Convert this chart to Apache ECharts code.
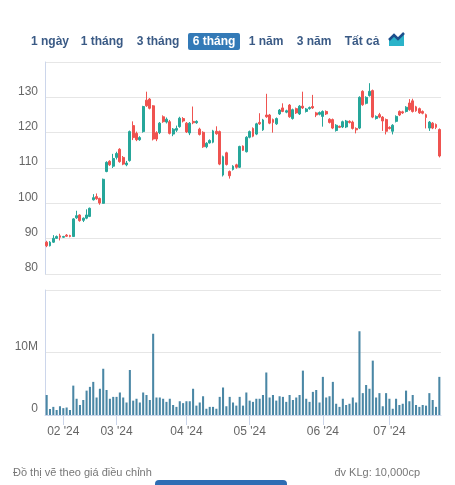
<!DOCTYPE html>
<html>
<head>
<meta charset="utf-8">
<script src="https://cdn.jsdelivr.net/npm/echarts@6/dist/echarts.min.js"></script>
<style>
    html, body { margin: 0; padding: 0; background: #fff; }
    #main { width: 455px; height: 485px; }
</style>
</head>
<body>
<div id="main"></div>
<script>
    // ngày giao dịch (6 tháng)
    var dates = [
        '2024-01-25', '2024-01-26', '2024-01-29', '2024-01-30', '2024-01-31',
        '2024-02-01', '2024-02-02', '2024-02-05', '2024-02-06', '2024-02-07', '2024-02-15', '2024-02-16', '2024-02-19',
        '2024-02-20', '2024-02-21', '2024-02-22', '2024-02-23', '2024-02-26', '2024-02-27', '2024-02-28', '2024-02-29',
        '2024-03-01', '2024-03-04', '2024-03-05', '2024-03-06', '2024-03-07', '2024-03-08', '2024-03-11', '2024-03-12',
        '2024-03-13', '2024-03-14', '2024-03-15', '2024-03-18', '2024-03-19', '2024-03-20', '2024-03-21', '2024-03-22',
        '2024-03-25', '2024-03-26', '2024-03-27', '2024-03-28', '2024-03-29',
        '2024-04-01', '2024-04-02', '2024-04-03', '2024-04-04', '2024-04-05', '2024-04-08', '2024-04-09', '2024-04-10',
        '2024-04-11', '2024-04-12', '2024-04-15', '2024-04-16', '2024-04-17', '2024-04-19', '2024-04-22', '2024-04-23',
        '2024-04-24', '2024-04-25', '2024-04-26',
        '2024-05-02', '2024-05-03', '2024-05-06', '2024-05-07', '2024-05-08', '2024-05-09', '2024-05-10', '2024-05-13',
        '2024-05-14', '2024-05-15', '2024-05-16', '2024-05-17', '2024-05-20', '2024-05-21', '2024-05-22', '2024-05-23',
        '2024-05-24', '2024-05-27', '2024-05-28', '2024-05-29', '2024-05-30', '2024-05-31',
        '2024-06-03', '2024-06-04', '2024-06-05', '2024-06-06', '2024-06-07', '2024-06-10', '2024-06-11', '2024-06-12',
        '2024-06-13', '2024-06-14', '2024-06-17', '2024-06-18', '2024-06-19', '2024-06-20', '2024-06-21', '2024-06-24',
        '2024-06-25', '2024-06-26', '2024-06-27', '2024-06-28',
        '2024-07-01', '2024-07-02', '2024-07-03', '2024-07-04', '2024-07-05', '2024-07-08', '2024-07-09', '2024-07-10',
        '2024-07-11', '2024-07-12', '2024-07-15', '2024-07-16', '2024-07-17', '2024-07-18', '2024-07-19', '2024-07-22'
    ]

    var openP = [
        89.0, 88.0, 89.0, 90.1, 90.8, 90.4, 91.0, 90.9, 90.6, 95.9, 96.7, 95.2, 95.8, 96.3, 101.0, 101.9, 101.4, 100.0,
        109.0, 111.9, 110.5, 113.0, 115.3, 113.0, 110.9, 112.1, 122.0, 119.8, 118.0, 120.3, 129.2, 129.5, 127.6, 120.0,
        120.0, 124.5, 123.0, 123.1, 119.6, 120.7, 121.7, 124.0, 122.7, 119.9, 123.2, 122.8, 121.0, 120.1, 116.0, 117.1,
        117.3, 120.4, 120.3, 108.0, 114.3, 109.0, 109.6, 110.9, 110.2, 116.2, 114.6, 118.7, 121.2, 119.6, 122.9, 120.8,
        125.0, 125.0, 123.7, 122.5, 125.3, 127.0, 125.8, 127.8, 124.0, 126.8, 125.3, 127.5, 126.0, 126.8, 127.4, 125.6,
        125.2, 124.6, 126.0, 123.8, 123.7, 120.6, 121.8, 121.6, 121.6, 123.2, 123.0, 121.2, 121.3, 131.7, 128.3, 130.5,
        131.9, 124.0, 125.1, 124.4, 123.7, 121.5, 120.4, 123.2, 126.0, 125.9, 126.0, 128.4, 129.0, 127.3, 126.8, 126.0,
        125.1, 121.3, 122.7, 122.3, 120.9
    ]
    var closeP = [
        88.0, 89.0, 90.1, 90.6, 90.4, 90.6, 90.7, 90.6, 95.6, 96.5, 95.1, 95.8, 96.7, 98.6, 101.6, 101.3, 100.1, 106.8,
        111.6, 110.9, 112.7, 114.1, 111.8, 111.1, 111.4, 120.3, 118.6, 118.0, 118.6, 127.4, 127.6, 126.9, 118.2, 118.2,
        122.7, 123.1, 123.8, 119.8, 121.0, 121.2, 124.1, 123.3, 120.2, 122.7, 122.8, 123.2, 119.5, 116.0, 117.0, 117.8,
        120.5, 119.7, 111.1, 113.2, 111.0, 107.8, 110.5, 110.2, 116.1, 115.0, 118.7, 120.3, 119.0, 122.5, 122.5, 123.6,
        124.5, 122.7, 122.9, 124.0, 126.4, 126.0, 126.2, 124.5, 126.5, 125.6, 127.5, 127.0, 126.7, 127.1, 127.0, 125.0,
        125.7, 126.0, 125.3, 122.9, 121.3, 122.1, 121.5, 123.1, 123.3, 122.9, 121.2, 120.8, 130.0, 127.9, 130.0, 131.7,
        124.4, 124.6, 124.4, 123.3, 120.4, 121.2, 122.1, 124.6, 125.0, 125.6, 127.2, 126.5, 126.0, 126.2, 125.6, 125.5,
        124.3, 123.0, 121.3, 121.5, 113.4
    ]
    var lowP = [
        87.6, 87.8, 88.8, 89.9, 89.5, 90.2, 90.5, 90.4, 90.5, 95.6, 94.8, 94.7, 95.5, 96.1, 100.8, 101.0, 99.6, 99.9,
        108.8, 110.6, 110.0, 112.4, 111.5, 110.8, 110.5, 111.8, 117.9, 117.6, 117.7, 120.0, 127.3, 126.6, 117.8, 117.6,
        119.6, 122.8, 122.6, 119.5, 119.0, 120.2, 121.4, 122.9, 119.9, 119.3, 122.4, 122.5, 119.2, 115.7, 115.6, 116.9,
        117.0, 119.4, 110.8, 107.6, 110.7, 107.0, 109.3, 109.8, 110.0, 114.8, 114.4, 118.4, 118.7, 119.3, 122.2, 120.5,
        124.2, 122.4, 120.0, 122.2, 125.0, 125.8, 125.5, 124.2, 123.7, 125.3, 125.0, 126.7, 125.7, 126.5, 126.7, 124.4,
        124.9, 121.7, 125.0, 122.6, 121.0, 120.3, 121.3, 121.3, 121.3, 122.6, 120.9, 119.8, 121.0, 127.6, 128.0, 130.2,
        124.1, 123.7, 124.1, 120.5, 119.5, 120.9, 119.5, 122.9, 124.7, 125.3, 125.7, 126.2, 125.7, 125.9, 125.3, 125.2,
        121.2, 120.5, 121.0, 121.0, 113.0
    ]
    var highP = [
        89.4, 89.3, 91.0, 90.9, 91.4, 90.8, 91.3, 91.1, 95.8, 97.9, 96.9, 96.0, 98.3, 98.8, 102.6, 102.8, 101.6, 107.0,
        111.9, 112.2, 114.0, 114.6, 115.6, 113.4, 112.0, 120.6, 123.2, 120.3, 119.0, 127.6, 131.6, 129.8, 127.8, 120.4,
        123.0, 124.9, 124.3, 123.6, 121.3, 122.0, 124.5, 124.4, 123.0, 123.0, 127.4, 123.5, 121.4, 120.4, 117.3, 118.1,
        120.8, 121.8, 120.6, 113.5, 114.6, 109.3, 110.8, 111.2, 116.3, 116.4, 119.0, 120.6, 121.5, 122.8, 125.5, 123.9,
        131.0, 125.3, 124.0, 124.3, 126.7, 128.3, 126.5, 128.1, 126.8, 127.1, 127.8, 131.6, 127.0, 127.4, 130.7, 125.9,
        126.0, 126.3, 126.3, 124.1, 124.0, 122.4, 122.0, 123.4, 123.6, 123.5, 123.4, 121.5, 130.3, 132.0, 130.3, 134.0,
        132.2, 124.9, 125.6, 124.7, 124.0, 121.8, 122.4, 124.9, 126.3, 126.2, 127.5, 129.5, 129.6, 127.6, 127.1, 126.3,
        125.4, 123.3, 123.0, 122.6, 121.2
    ]
    // khối lượng (triệu cp)
    var volume = [
        3.2, 0.96, 1.3, 0.8, 1.4, 1.1, 1.2, 0.8, 4.7, 2.6, 1.6, 2.4, 3.9, 4.5, 5.3, 2.8, 4.2, 7.4, 4.0, 2.6,
        2.9, 2.9, 3.6, 2.8, 2.0, 7.2, 2.3, 2.6, 2.0, 3.6, 3.2, 2.4, 13.0, 2.8, 2.8, 2.6, 2.1, 2.6, 1.6, 1.3,
        2.2, 1.9, 2.2, 2.2, 4.2, 1.5, 2.0, 3.0, 1.0, 1.3, 1.3, 1.0, 2.9, 4.4, 1.4, 2.9, 2.0, 1.5, 2.9, 1.5,
        3.6, 2.3, 2.1, 2.6, 2.6, 3.2, 6.8, 2.8, 3.2, 2.3, 3.0, 2.9, 2.1, 3.2, 2.4, 2.8, 3.2, 7.1, 2.6, 2.1,
        3.7, 4.0, 2.0, 6.1, 2.8, 3.0, 5.3, 1.8, 1.3, 2.6, 1.6, 1.8, 2.8, 2.0, 13.4, 3.5, 4.8, 4.2, 8.7, 2.8,
        3.5, 1.4, 3.5, 2.6, 1.0, 2.6, 1.6, 1.8, 3.9, 2.2, 3.2, 1.6, 1.3, 1.6, 1.5, 3.5, 2.4, 1.3, 6.1
    ]

    var rangeButtons = ['1 ngày', '1 tháng', '3 tháng', '6 tháng', '1 năm', '3 năm', 'Tất cả']
    var rangeButtonX = [50, 102, 158, 214, 266, 314, 362]
    var activeRange = '6 tháng'

    var fontName = '"Liberation Sans", Arial, sans-serif'
    var upColor = '#26a69a'
    var downColor = '#ef5350'
    var gridColor = '#e6e6e6'
    var axisColor = '#ccd6eb'

    var candleData = dates.map(function (d, i) {
        return [openP[i], closeP[i], lowP[i], highP[i]]
    })

    function isMonthStart(index) {
        if (index === 0) return false
        return dates[index].slice(0, 7) !== dates[index - 1].slice(0, 7)
    }

    var graphics = []
    rangeButtons.forEach(function (label, i) {
        var active = label === activeRange
        if (active) {
            graphics.push({
                type: 'rect',
                shape: { x: rangeButtonX[i] - 26, y: 33, width: 52, height: 17, r: 2 },
                style: { fill: '#337ab7' }
            })
        }
        graphics.push({
            type: 'text',
            x: rangeButtonX[i], y: 41.5,
            style: {
                text: label,
                fill: active ? '#fff' : '#3a5a85',
                font: 'bold 12px ' + fontName,
                textAlign: 'center', textVerticalAlign: 'middle'
            }
        })
    })
    // icon biểu đồ
    graphics.push({
        type: 'polygon',
        shape: { points: [[389, 46], [389, 40], [394, 35], [398, 39], [404, 33], [404, 46]] },
        style: { fill: '#2bb3c9' }
    })
    graphics.push({
        type: 'polyline',
        shape: { points: [[389, 40], [394, 35], [398, 39], [404, 33]] },
        style: { stroke: '#1d4f8c', lineWidth: 2.5, fill: null }
    })
    graphics.push({
        type: 'text', x: 13, y: 473,
        style: { text: 'Đồ thị vẽ theo giá điều chỉnh', fill: '#777', font: '11px ' + fontName, textVerticalAlign: 'middle' }
    })
    graphics.push({
        type: 'text', x: 420, y: 473,
        style: { text: 'đv KLg: 10,000cp', fill: '#777', font: '11px ' + fontName, textAlign: 'right', textVerticalAlign: 'middle' }
    })
    graphics.push({
        type: 'rect',
        shape: { x: 155, y: 480, width: 132, height: 14, r: 4 },
        style: { fill: '#2e6db4' }
    })

    var option = {
        animation: false,
        backgroundColor: '#fff',
        textStyle: { fontFamily: fontName },
        grid: [
            { left: 45, right: 14, top: 62, height: 212 },
            { left: 45, right: 14, top: 290, height: 125 }
        ],
        xAxis: [
            {
                type: 'category', gridIndex: 0, data: dates,
                axisLine: { show: false }, axisTick: { show: false }, axisLabel: { show: false },
                splitLine: { show: false }
            },
            {
                type: 'category', gridIndex: 1, data: dates,
                axisLine: { show: true, lineStyle: { color: axisColor } },
                axisTick: {
                    show: true, alignWithLabel: true, length: 10,
                    interval: function (index) { return isMonthStart(index) },
                    lineStyle: { color: axisColor }
                },
                axisLabel: {
                    interval: function (index) { return isMonthStart(index) },
                    formatter: function (value) {
                        return value.slice(5, 7) + " '" + value.slice(2, 4)
                    },
                    color: '#666', fontSize: 12, margin: 11
                },
                splitLine: { show: false }
            }
        ],
        yAxis: [
            {
                type: 'value', gridIndex: 0, min: 80, max: 140, interval: 10,
                axisLine: { show: true, lineStyle: { color: axisColor } },
                axisTick: { show: false },
                axisLabel: {
                    color: '#666', fontSize: 12, margin: 7, verticalAlign: 'bottom',
                    formatter: function (v) { return v === 140 ? '' : v }
                },
                splitLine: { lineStyle: { color: gridColor } }
            },
            {
                type: 'value', gridIndex: 1, min: 0, max: 20, interval: 10,
                axisLine: { show: true, lineStyle: { color: axisColor } },
                axisTick: { show: false },
                axisLabel: {
                    color: '#666', fontSize: 12, margin: 7, verticalAlign: 'bottom',
                    formatter: function (v) { return v === 0 ? '0' : (v === 10 ? '10M' : '') }
                },
                splitLine: { lineStyle: { color: gridColor } }
            }
        ],
        series: [
            {
                name: 'Giá',
                type: 'candlestick',
                xAxisIndex: 0, yAxisIndex: 0,
                barWidth: '72%',
                data: candleData,
                itemStyle: {
                    color: upColor, color0: downColor,
                    borderColor: upColor, borderColor0: downColor,
                    borderWidth: 1
                }
            },
            {
                name: 'KLg',
                type: 'bar',
                xAxisIndex: 1, yAxisIndex: 1,
                barWidth: '62%',
                data: volume,
                itemStyle: { color: '#4a87a5' }
            }
        ],
        graphic: graphics
    }

    var chart = echarts.init(document.getElementById('main'))
    chart.setOption(option)
</script>
</body>
</html>
